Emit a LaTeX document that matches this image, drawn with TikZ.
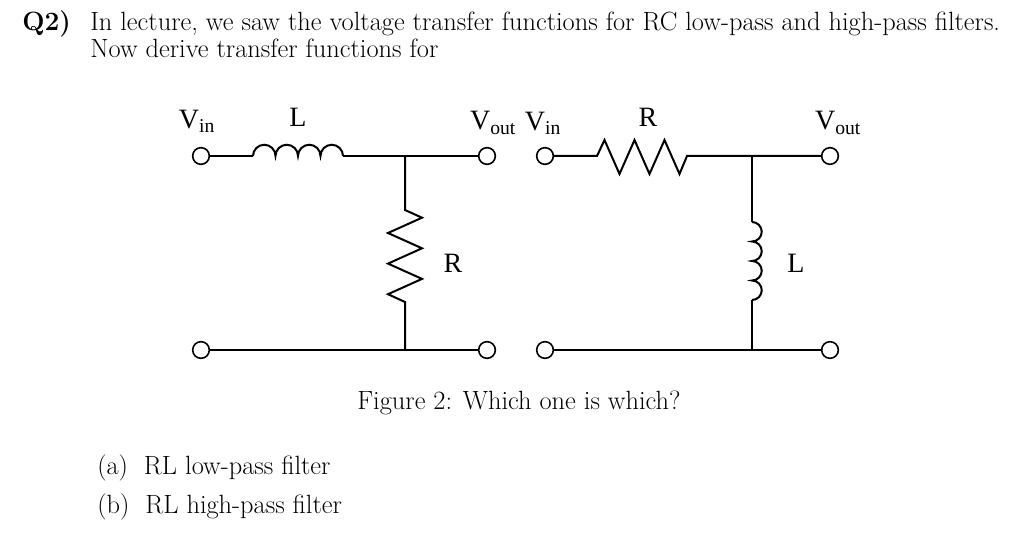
\documentclass[tikz,border=0pt]{standalone}
\usepackage{fontspec}
\newfontfamily\tms{Liberation Serif}
\usetikzlibrary{decorations.pathmorphing}
\begin{document}
\begin{tikzpicture}[x=0.75pt,y=-0.75pt,
  wire/.style={line width=1.5pt},
  term/.style={circle,draw,line width=1.2pt,minimum size=12.5pt,inner sep=0pt,fill=white},
  lab/.style={font=\tms\fontsize{21}{24}\selectfont},
  txt/.style={font=\fontsize{19.8}{24}\selectfont,anchor=base west,inner sep=0pt}]
\useasboundingbox (0,0) rectangle (1024,538);
% text
\node[txt] (q) at (22,31) {\textbf{Q2)}};
\node[txt] (l1) at (90,31) {In lecture, we saw the voltage transfer functions for RC low-pass and high-pass filters.};
\node[txt] (l2) at (90,58) {Now derive transfer functions for};
\node[txt,anchor=base] (cap) at (519,409) {Figure 2: Which one is which?};
\node[txt] (a) at (97,474) {(a)\ \ RL low-pass filter};
\node[txt] (b) at (97,513) {(b)\ \ RL high-pass filter};
% left circuit
\node[term] (A1) at (201,156) {};
\node[term] (A2) at (487,156) {};
\node[term] (A3) at (201,350) {};
\node[term] (A4) at (487,350) {};
\coordinate (J1) at (405,156);
\coordinate (J2) at (405,350);
\coordinate (Ls) at (253,156);
\coordinate (Le) at (343,156);
\draw[wire] (A1) -- (Ls);
\draw[wire] (Ls) \foreach \i in {0,1,2,3} {arc[start angle=180,end angle=360,radius=11.25]};
\draw[wire] (Le) -- (J1) -- (A2);
\coordinate (R1s) at (405,210);
\coordinate (R1e) at (405,302);
\draw[wire] (J1) -- (R1s)
  -- ++(17,7.7) -- ++(-34,15.3) -- ++(34,15.3) -- ++(-34,15.3) -- ++(34,15.3) -- ++(-34,15.3) -- (R1e) -- (J2);
\draw[wire] (A3) -- (J2) -- (A4);
\node[lab] (vin1) at (197,121) {V\textsubscript{in}};
\node[lab] (Llab) at (298,117) {L};
\node[lab] (vout1) at (493,123) {V\textsubscript{out}};
\node[lab] (Rlab) at (453,263) {R};
% right circuit
\node[term] (B1) at (545,156) {};
\node[term] (B2) at (830,156) {};
\node[term] (B3) at (545,350) {};
\node[term] (B4) at (830,350) {};
\coordinate (K1) at (752,156);
\coordinate (K2) at (752,350);
\coordinate (Rs) at (597,156);
\coordinate (Re) at (687,156);
\draw[wire] (B1) -- (Rs) -- ++(7.5,-16) -- ++(15,34) -- ++(15,-34) -- ++(15,34) -- ++(15,-34) -- ++(15,34) -- (Re) -- (K1) -- (B2);
\coordinate (L2s) at (752,222);
\coordinate (L2e) at (752,300);
\draw[wire] (K1) -- (L2s);
\draw[wire] (L2s) \foreach \i in {0,1,2,3} {arc[start angle=-90,end angle=90,radius=9.75]};
\draw[wire] (L2e) -- (K2);
\draw[wire] (B3) -- (K2) -- (B4);
\node[lab] (vin2) at (543,123) {V\textsubscript{in}};
\node[lab] (Rlab2) at (648,117) {R};
\node[lab] (vout2) at (838,123) {V\textsubscript{out}};
\node[lab] (Llab2) at (796,263) {L};
\end{tikzpicture}
\end{document}
